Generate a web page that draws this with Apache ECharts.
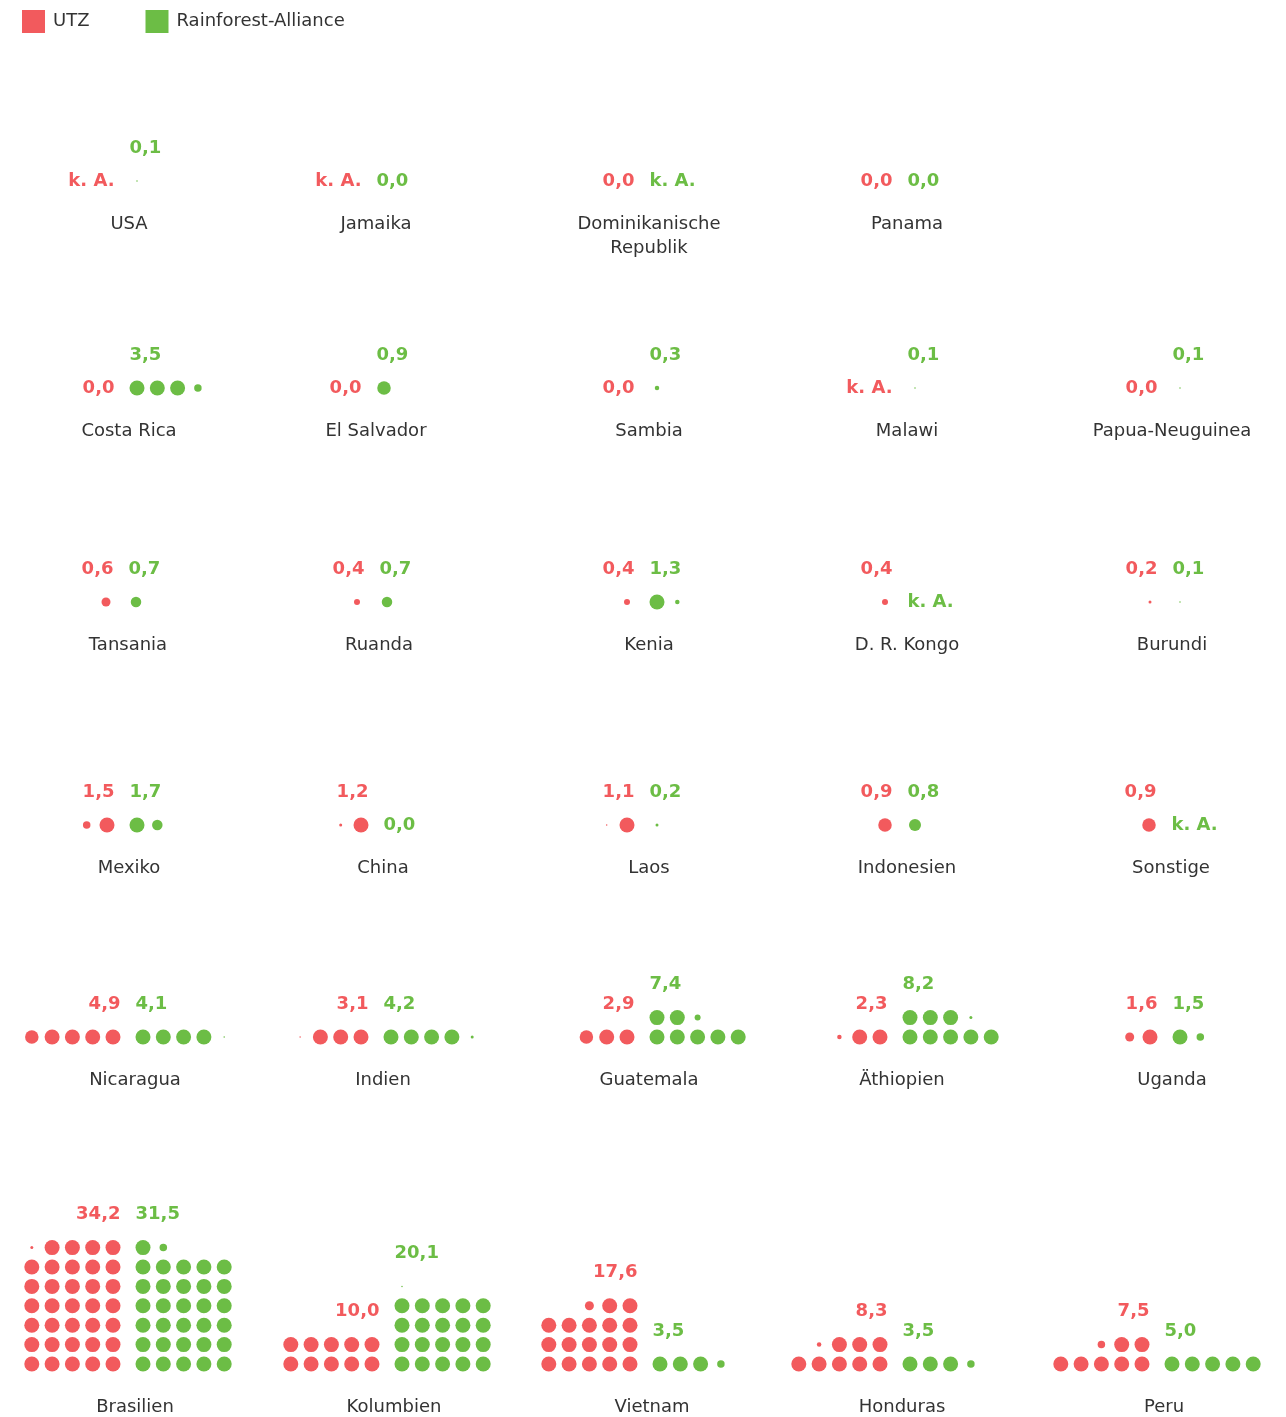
<!DOCTYPE html>
<html>
<head>
<meta charset="utf-8">
<title>UTZ / Rainforest-Alliance</title>
<script src="https://cdn.jsdelivr.net/npm/echarts@6/dist/echarts.min.js"></script>
<style>
    html,body{margin:0;padding:0;background:#fff;}
    #chart{width:1286px;height:1417px;}
</style>
</head>
<body>
<div id="chart"></div>
<script>
// Werte in Prozent, null = keine Angabe
var countries=['USA','Jamaika','Dominikanische\nRepublik','Panama',
    'Costa Rica','El Salvador','Sambia','Malawi','Papua-Neuguinea',
    'Tansania','Ruanda','Kenia','D. R. Kongo','Burundi',
    'Mexiko','China','Laos','Indonesien','Sonstige',
    'Nicaragua','Indien','Guatemala','Äthiopien','Uganda',
    'Brasilien','Kolumbien','Vietnam','Honduras','Peru'];
var utz=[null,null,0.0,0.0,
    0.0,0.0,0.0,null,0.0,
    0.6,0.4,0.4,0.4,0.2,
    1.5,1.2,1.1,0.9,0.9,
    4.9,3.1,2.9,2.3,1.6,
    34.2,10.0,17.6,8.3,7.5];
var rainforest=[0.1,0.0,null,0.0,
    3.5,0.9,0.3,0.1,0.1,
    0.7,0.7,1.3,null,0.1,
    1.7,0.0,0.2,0.8,null,
    4.1,4.2,7.4,8.2,1.5,
    31.5,20.1,3.5,3.5,5.0];
var seriesNames=['UTZ','Rainforest-Alliance'];

// layout
var RED='#f25a5d',GREEN='#6cbd45',TEXT='#333';
var rowSizes=[4,5,5,5,5,5];
var rowBaseY=[181,388,602,825,1037,1364];
var rowCenters=[
    [122,369,642,900],
    [122,369,642,900,1165],
    [121,372,642,900,1165],
    [122,376,642,900,1164],
    [128,376,642,895,1165],
    [128,387,645,895,1157]
];
var DX=20.3,DY=19.4,DOT=15,GAP=15,PER_ROW=5,LABEL_UP=33;

function fmt(v){
    if(v===null) return 'k. A.';
    return v.toFixed(1).replace('.',',');
}

function buildDots(v,cx,baseY,dir){                     // dir -1 = links (UTZ), 1 = rechts
    var out=[];
    if(v===null || v<=0) return out;
    var full=Math.floor(v+1e-9);
    var frac=Math.round((v-full)*10)/10;
    var n=full+(frac>0?1:0);
    for(var i=0;i<n;i++){
        var col=i%PER_ROW,row=Math.floor(i/PER_ROW);
        var size=i<full?DOT:Math.max(DOT*frac,1.5);
        out.push([cx+dir*(GAP+col*DX),baseY-row*DY,size]);
    }
    return out;
}

function labelPos(v,cx,baseY,dir){
    var x=cx+dir*(GAP-DOT/2);
    if(v===null || v<=0) return [x,baseY];
    var full=Math.floor(v+1e-9);
    var frac=Math.round((v-full)*10)/10;
    var n=full+(frac>0?1:0);
    var rows=Math.ceil(n/PER_ROW);
    return [x,baseY-(rows-1)*DY-LABEL_UP];
}

var redDots=[],greenDots=[],redLabels=[],greenLabels=[],nameLabels=[];
var idx=0;
for(var r=0;r<rowSizes.length;r++){
    for(var c=0;c<rowSizes[r];c++){
        var cx=rowCenters[r][c],by=rowBaseY[r];
        redDots=redDots.concat(buildDots(utz[idx],cx,by,-1));
        greenDots=greenDots.concat(buildDots(rainforest[idx],cx,by,1));
        redLabels.push({value:labelPos(utz[idx],cx,by,-1),name:fmt(utz[idx])});
        greenLabels.push({value:labelPos(rainforest[idx],cx,by,1),name:fmt(rainforest[idx])});
        nameLabels.push({value:[cx+7,by+31],name:countries[idx]});
        idx++;
    }
}

var FONT='"DejaVu Sans", sans-serif';
function labelSeries(data,color,align,bold){
    return {
        type:'scatter',
        data:data,
        symbolSize:0,
        silent:true,
        itemStyle:{opacity:1},
        label:{
            show:true,
            position:'inside',
            formatter:'{b}',
            align:align,
            verticalAlign:bold?'middle':'top',
            color:color,
            opacity:1,
            fontFamily:FONT,
            fontSize:18,
            fontWeight:bold?'bold':'normal',
            lineHeight:24
        }
    };
}

var myChart=echarts.init(document.getElementById('chart'),null,{renderer:'canvas'});
var option={
    animation:false,
    backgroundColor:'#fff',
    legend:{
        left:22,
        top:10,
        padding:0,
        itemWidth:23,
        itemHeight:23,
        itemGap:56,
        icon:'rect',
        data:seriesNames,
        textStyle:{fontFamily:FONT,fontSize:18,color:TEXT,padding:[0,0,0,3]}
    },
    grid:{left:0,right:0,top:0,bottom:0},
    xAxis:{type:'value',min:0,max:1286,show:false},
    yAxis:{type:'value',min:0,max:1417,inverse:true,show:false},
    series:[
        {
            name:seriesNames[0],
            type:'scatter',
            data:redDots,
            symbolSize:function(val){return val[2];},
            itemStyle:{color:RED,opacity:1}
        },
        {
            name:seriesNames[1],
            type:'scatter',
            data:greenDots,
            symbolSize:function(val){return val[2];},
            itemStyle:{color:GREEN,opacity:1}
        },
        labelSeries(redLabels,RED,'right',true),
        labelSeries(greenLabels,GREEN,'left',true),
        labelSeries(nameLabels,TEXT,'center',false)
    ]
};
myChart.setOption(option);
</script>
</body>
</html>
